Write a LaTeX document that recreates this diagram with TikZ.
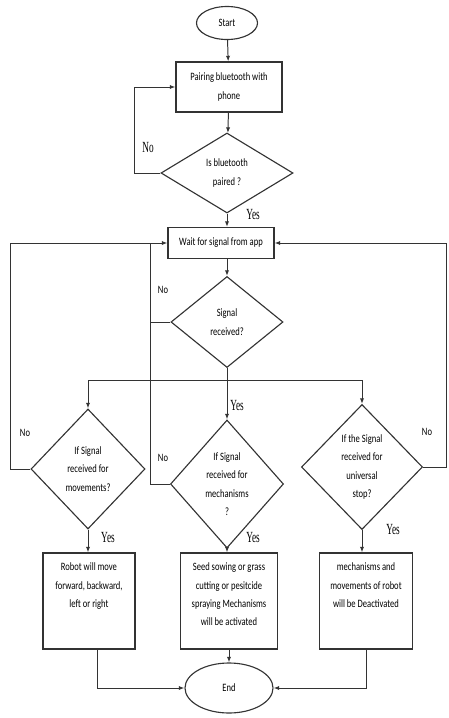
\documentclass[tikz,border=0pt]{standalone}
\usepackage{fontspec}
\usetikzlibrary{shapes.geometric,arrows.meta}
\newfontfamily\boxfont[FakeStretch=0.76]{Carlito}
\newfontfamily\labfont[FakeStretch=0.6]{Liberation Serif}
\newcommand{\toptext}[1]{\parbox[t][1.9cm][t]{2.3cm}{\centering #1}}

\begin{document}
\begin{tikzpicture}[x=0.025cm, y=-0.025cm,
  line/.style={black!80, line width=0.7pt},
  arr/.style={line, -{Latex[length=4pt,width=3pt]}},
  term/.style={ellipse, draw=black!80, line width=0.8pt, inner sep=0pt, font=\fontsize{8}{13}\boxfont},
  proc/.style={rectangle, draw=black!80, line width=0.8pt, inner sep=0pt, align=center, font=\fontsize{8}{13}\boxfont},
  ask/.style={diamond, aspect=1, draw=black!80, line width=0.8pt, inner sep=0pt, align=center, font=\fontsize{8}{13}\boxfont},
  nolab/.style={font=\fontsize{8}{10}\boxfont},
  yeslab/.style={font=\fontsize{11}{12}\labfont}]

\useasboundingbox (0,0) rectangle (448,718);

\coordinate (S) at (227,23);
\coordinate (P) at (229,87);
\coordinate (B) at (227,173);
\coordinate (W) at (221,243);
\coordinate (R) at (227,322);
\coordinate (M) at (88,469);
\coordinate (C) at (227,484);
\coordinate (U) at (362,467);
\coordinate (E) at (229,688);

% nodes
\node [term, minimum width=1.525cm, minimum height=0.825cm] (start) at (S) {Start};
\node [proc, minimum width=2.65cm, minimum height=1.25cm] (pair) at (P) {Pairing bluetooth with\\phone};
\node [ask, minimum width=3.3cm, minimum height=2cm] (paired) at (B) {Is bluetooth\\paired ?};
\node [proc, minimum width=2.65cm, minimum height=0.775cm] (wait) at (W) {Wait for signal from app};
\node [ask, minimum width=2.8cm, minimum height=2.275cm] (recv) at (R) {Signal\\received?};
\node [ask, minimum width=2.85cm, minimum height=3cm] (moveq) at (M) {If Signal\\received for\\movements?};
\node [ask, minimum width=2.825cm, minimum height=3.2cm] (mechq) at (C) {If Signal\\received for\\mechanisms\\?};
\node [ask, minimum width=3.025cm, minimum height=3.125cm] (stopq) at (U) {If the Signal\\received for\\universal\\stop?};
\node [proc, minimum width=2.3cm, minimum height=2.4cm] (movebox) at (89,601) {\toptext{Robot will move\\forward, backward,\\left or right}};
\node [proc, minimum width=2.425cm, minimum height=2.4cm] (mechbox) at (229,601) {\toptext{Seed sowing or grass\\cutting or pesitcide\\spraying Mechanisms\\will be activated}};
\node [proc, minimum width=2.325cm, minimum height=2.4cm] (stopbox) at (366,601) {\toptext{mechanisms and\\movements of robot\\will be Deactivated}};
\node [term, minimum width=2.2cm, minimum height=1.25cm] (end) at (E) {End};

% loop points
\coordinate (nopair) at (134,173);
\coordinate (ltop) at (10,243);
\coordinate (mtop) at (150,243);
\coordinate (rtop) at (446,243);
\coordinate (bus) at (227,380);

% connectors
\draw [arr] (start) -- (pair);
\draw [arr] (pair) -- (paired);
\draw [arr] (paired.west) -- (nopair) |- (pair.west);
\draw [arr] (paired.south) -- (paired.south |- wait.north);
\draw [arr] (recv.north |- wait.south) -- (recv.north);
\draw [arr] (moveq.west) -- (moveq.west -| ltop) -- (ltop) -- (wait.west);
\draw [arr] (stopq.east) -- (stopq.east -| rtop) -- (rtop) -- (wait.east);
\draw [line] (mechq.west) -- (mechq.west -| mtop) -- (mtop);
\draw [line] (recv.west) -- (recv.west -| mtop);
\draw [line] (recv.south) -- (bus);
\draw [line] (bus -| moveq) -- (bus -| stopq);
\draw [arr] (bus -| moveq) -- (moveq.north);
\draw [arr] (bus) -- (mechq.north);
\draw [arr] (bus -| stopq) -- (stopq.north);
\draw [arr] (moveq.south) -- (moveq.south |- movebox.north);
\draw [arr] (mechq.south) -- (mechq.south |- mechbox.north);
\draw [arr] (stopq.south) -- (stopq.south |- stopbox.north);
\draw [arr] ([xshift=0.2cm]movebox.south) |- (end.west);
\draw [arr] (mechbox.south) -- (end.north);
\draw [arr] (stopbox.south) |- (end.east);

% labels
\node [yeslab] (no1) at (148,148) {No};
\node [yeslab] (yes1) at (253,215) {Yes};
\node [nolab] (no2) at (163,290) {No};
\node [nolab] (no3) at (25,433) {No};
\node [nolab] (no4) at (163,458) {No};
\node [nolab] (no5) at (427,432) {No};
\node [yeslab] (yes2) at (237,406) {Yes};
\node [yeslab] (yes3) at (108,538) {Yes};
\node [yeslab] (yes4) at (253,538) {Yes};
\node [yeslab] (yes5) at (393,530) {Yes};
\end{tikzpicture}
\end{document}
